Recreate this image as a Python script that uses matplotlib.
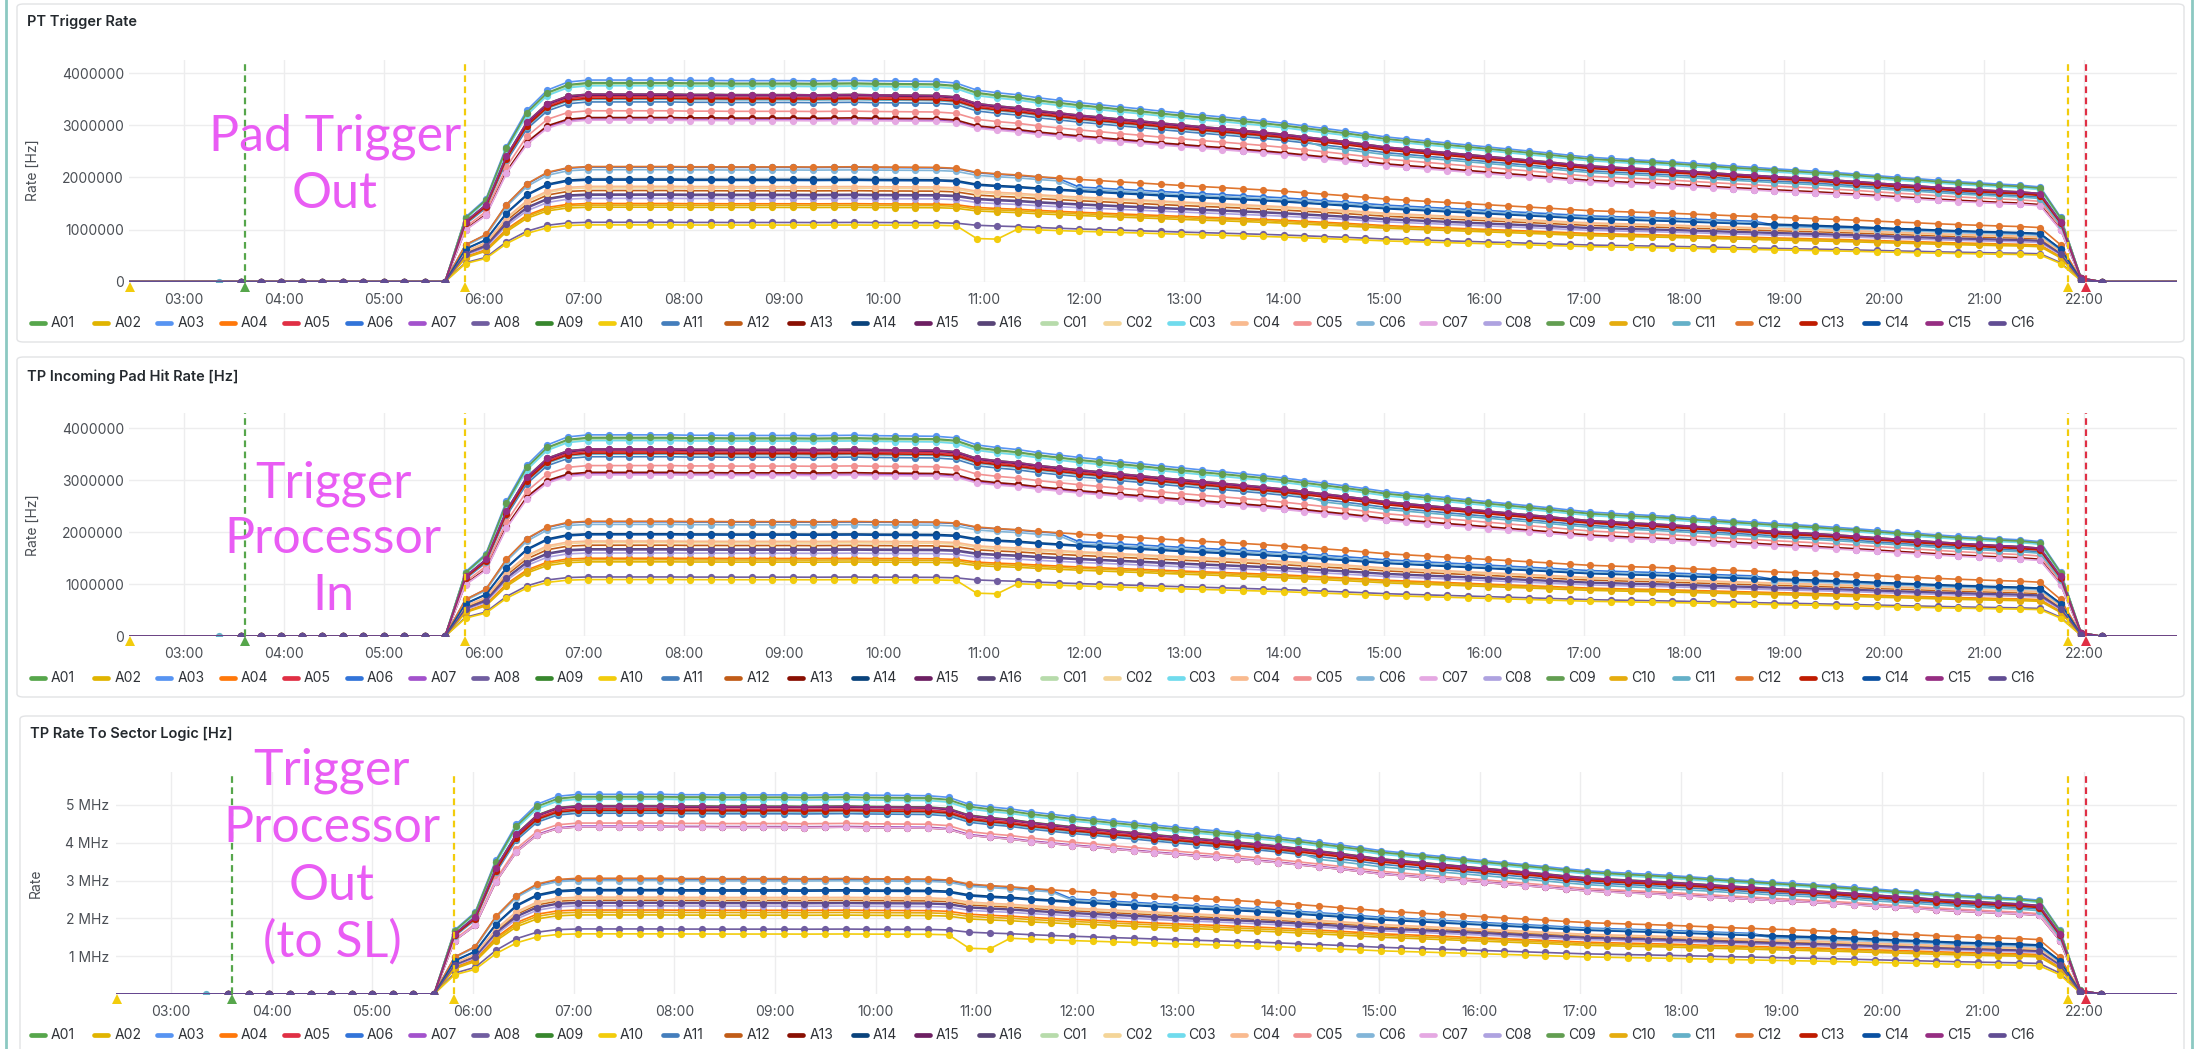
import numpy as np
import matplotlib
matplotlib.use("Agg")
import matplotlib.pyplot as plt
import matplotlib.transforms as mtransforms
from matplotlib.patches import FancyBboxPatch
from matplotlib.lines import Line2D

plt.rcParams['font.family'] = ['Inter', 'DejaVu Sans']

W, H = 2202, 1049

names = ['A01', 'A02', 'A03', 'A04', 'A05', 'A06', 'A07', 'A08',
         'A09', 'A10', 'A11', 'A12', 'A13', 'A14', 'A15', 'A16',
         'C01', 'C02', 'C03', 'C04', 'C05', 'C06', 'C07', 'C08',
         'C09', 'C10', 'C11', 'C12', 'C13', 'C14', 'C15', 'C16']
colors = ['#56A64B', '#E0B400', '#5794F2', '#FF780A', '#E02F44', '#3274D9',
          '#A352CC', '#705DA0', '#37872D', '#F2CC0C', '#447EBC', '#C15C17',
          '#890F02', '#0A437C', '#6D1F62', '#584477',
          '#B7DBAB', '#F4D598', '#70DBED', '#F9BA8F', '#F29191', '#82B5D8',
          '#E5A8E2', '#AEA2E0', '#629E51', '#E5AC0E', '#64B0C8', '#E0752D',
          '#BF1B00', '#0A50A1', '#962D82', '#614D93']

# plateau rate per link [Hz] (pad trigger out == TP incoming)
pad_level = [3.80e6, 1.43e6, 3.87e6, 1.50e6, 3.55e6, 2.20e6, 3.12e6, 1.14e6,
             3.60e6, 1.09e6, 3.45e6, 1.75e6, 3.15e6, 1.97e6, 3.58e6, 1.68e6,
             3.78e6, 1.80e6, 3.76e6, 1.83e6, 3.28e6, 2.15e6, 3.10e6, 1.60e6,
             3.82e6, 1.47e6, 3.50e6, 2.21e6, 3.52e6, 1.95e6, 3.60e6, 1.66e6]
# plateau rate per link to sector logic [Hz]
sl_level = [5.20e6, 2.09e6, 5.28e6, 2.22e6, 4.90e6, 3.04e6, 4.44e6, 1.72e6,
            4.98e6, 1.59e6, 4.78e6, 2.48e6, 4.42e6, 2.76e6, 4.95e6, 2.42e6,
            5.18e6, 2.52e6, 5.15e6, 2.56e6, 4.52e6, 3.00e6, 4.42e6, 2.33e6,
            5.22e6, 2.16e6, 4.83e6, 3.06e6, 4.86e6, 2.73e6, 4.97e6, 2.40e6]

# fill-relative rate, one sample every ~12 min starting 03:34
profile = [0, 0, 0, 0, 0, 0, 0, 0, 0, 0, 0,
           0.32, 0.41, 0.67, 0.85, 0.95, 0.99,
           1.0, 1.0, 1.0, 1.0, 1.0,
           0.998, 0.998, 0.997, 0.997, 0.997, 0.997, 0.996, 0.997, 0.998,
           0.996, 0.995, 0.994, 0.993,
           0.985, 0.950, 0.937, 0.927, 0.912, 0.900, 0.888, 0.878, 0.867,
           0.857, 0.846, 0.836, 0.826, 0.817, 0.807, 0.797, 0.786, 0.773,
           0.760, 0.747, 0.733, 0.718, 0.708, 0.698, 0.688, 0.678, 0.668,
           0.658, 0.648, 0.638, 0.627, 0.617, 0.611, 0.605, 0.600, 0.594,
           0.587, 0.580, 0.573, 0.567, 0.560, 0.554, 0.548, 0.541, 0.534,
           0.526, 0.518, 0.511, 0.503, 0.496, 0.490, 0.484, 0.479, 0.470,
           0.320, 0.018, 0.0]
t_first = 3.57     # hours
t_step = 0.2044    # hours between samples

# per-link deviations: name, first sample, last sample (excl.), factor
# (A10 dropout near 11:00, steps in the A06/C06 and C11 rates)
dev_name = ['A10', 'A06', 'C06', 'A06', 'C06', 'C11']
dev_from = [36, 41, 41, 75, 75, 53]
dev_to = [38, 92, 92, 92, 92, 92]
dev_frac = [0.80, 0.93, 0.93, 0.95, 0.95, 0.97]

# one extra early sample of C11
early_name = 'C11'
early_t = 3.35

# annotations: time, colour, dashed line drawn
ann_t = [2.46, 3.61, 5.81, 21.84, 22.02]
ann_c = ['#F2CC0C', '#56A64B', '#F2CC0C', '#F2CC0C', '#E02F44']
ann_line = [False, True, True, True, True]

t_min, t_max = 2.455, 22.925
hours = list(range(3, 23))

times = t_first + t_step * np.arange(len(profile))
prof = np.array(profile)

fig = plt.figure(figsize=(W / 100, H / 100), dpi=100)
fig.patch.set_facecolor('white')


def px_axes(left, top, right, bottom):
    ax = fig.add_axes([left / W, 1 - bottom / H, (right - left) / W,
                       (bottom - top) / H])
    ax.set_zorder(2)
    return ax


def fig_text(x, y, s, **kw):
    return fig.text(x / W, 1 - y / H, s, **kw)


def panel_frame(left, top, right, bottom):
    box = FancyBboxPatch((left / W, 1 - bottom / H), (right - left) / W,
                         (bottom - top) / H,
                         boxstyle="round,pad=0,rounding_size=0.003",
                         transform=fig.transFigure, facecolor='none',
                         edgecolor='#e2e3e5', lw=1, zorder=-1)
    fig.patches.append(box)


def link_values(i, levels):
    vals = levels[i] * prof
    for n, k0, k1, f in zip(dev_name, dev_from, dev_to, dev_frac):
        if n == names[i]:
            vals[k0:k1] = vals[k0:k1] * f
    return vals


def draw_panel(ax, levels, ymax, yticks, ylabels):
    for i, name in enumerate(names):
        vals = link_values(i, levels)
        x = np.concatenate([[1.5], times, [24.0]])
        y = np.concatenate([[0.0], vals, [0.0]])
        if name == early_name:
            x = np.insert(x, 1, early_t)
            y = np.insert(y, 1, 0.0)
        ax.plot(x, y, color=colors[i], lw=1.2, marker='o', ms=5.2,
                mew=0, zorder=2)
    trans = mtransforms.blended_transform_factory(ax.transData, ax.transAxes)
    for t, c, dashed in zip(ann_t, ann_c, ann_line):
        if dashed:
            ln = ax.axvline(t, color=c, lw=1.6, zorder=3)
            ln.set_dashes((3, 2))
        ax.plot([t], [-0.022], marker='^', ms=6.5, color=c, mew=0,
                transform=trans, clip_on=False, zorder=4)
    ax.set_xlim(t_min, t_max)
    ax.set_ylim(0, ymax)
    ax.set_xticks(hours)
    ax.set_xticklabels(['%02d:00' % h for h in hours])
    ax.set_yticks(yticks)
    ax.set_yticklabels(ylabels)
    ax.grid(color='#ededee', lw=1)
    ax.set_axisbelow(True)
    for s in ax.spines.values():
        s.set_visible(False)
    ax.tick_params(length=0, labelsize=10, colors='#4b4f55')
    ax.tick_params(axis='x', pad=8)
    ax.patch.set_alpha(0)


def draw_legend(y):
    for i, name in enumerate(names):
        mx = 38 + 63.2 * i
        fig.add_artist(Line2D([(mx - 7) / W, (mx + 7) / W],
                              [1 - y / H, 1 - y / H], lw=3.4,
                              color=colors[i], solid_capstyle='round',
                              transform=fig.transFigure))
        fig_text(mx + 13, y, name, fontsize=10, color='#2f3237',
                 va='center', ha='left')


def draw_note(lines, x, baselines):
    for s, b in zip(lines, baselines):
        fig_text(x, b, s, fontsize=36, color='#e95cf4', ha='center',
                 va='baseline', family=['Lato', 'DejaVu Sans'], zorder=5)


# outer border
fig.add_artist(Line2D([5.5 / W, 5.5 / W], [0, 1], lw=2, color='#8cc9c2',
                      transform=fig.transFigure))
fig.add_artist(Line2D([2192 / W, 2192 / W], [0, 1], lw=2, color='#8cc9c2',
                      transform=fig.transFigure))

panel_frame(17, 4, 2184, 342)
panel_frame(17, 357, 2184, 697)
panel_frame(20, 716, 2184, 1060)

pad_ticks = [0, 1e6, 2e6, 3e6, 4e6]
pad_labels = ['0', '1000000', '2000000', '3000000', '4000000']

# PT Trigger Rate
ax1 = px_axes(129, 60, 2177, 281.7)
draw_panel(ax1, pad_level, 4.255e6, pad_ticks, pad_labels)
ax1.tick_params(axis='y', pad=3.6)
fig_text(27, 22, 'PT Trigger Rate', fontsize=10.5, weight='semibold',
         color='#24292e', va='center')
fig_text(33, 170, 'Rate [Hz]', fontsize=10, color='#4b4f55', rotation=90,
         va='center', ha='center')
draw_legend(323)
draw_note(['Pad Trigger', 'Out'], 335, [150, 208])

# TP Incoming Pad Hit Rate
ax2 = px_axes(129, 413, 2177, 636.3)
draw_panel(ax2, pad_level, 4.29e6, pad_ticks, pad_labels)
ax2.tick_params(axis='y', pad=3.6)
fig_text(27, 377, 'TP Incoming Pad Hit Rate [Hz]', fontsize=10.5,
         weight='semibold', color='#24292e', va='center')
fig_text(33, 525, 'Rate [Hz]', fontsize=10, color='#4b4f55', rotation=90,
         va='center', ha='center')
draw_legend(678)
draw_note(['Trigger', 'Processor', 'In'], 333, [497, 553, 610])

# TP Rate To Sector Logic
ax3 = px_axes(116, 772, 2177, 994)
draw_panel(ax3, sl_level, 5.87e6, [1e6, 2e6, 3e6, 4e6, 5e6],
           ['1 MHz', '2 MHz', '3 MHz', '4 MHz', '5 MHz'])
ax3.tick_params(axis='y', pad=5)
fig_text(30, 734, 'TP Rate To Sector Logic [Hz]', fontsize=10.5,
         weight='semibold', color='#24292e', va='center')
fig_text(36, 883, 'Rate', fontsize=10, color='#4b4f55', rotation=90,
         va='center', ha='center')
draw_legend(1035)
draw_note(['Trigger', 'Processor', 'Out', '(to SL)'], 332,
          [785, 842, 900, 957])

fig.savefig('out.png', dpi=100, facecolor='white')
